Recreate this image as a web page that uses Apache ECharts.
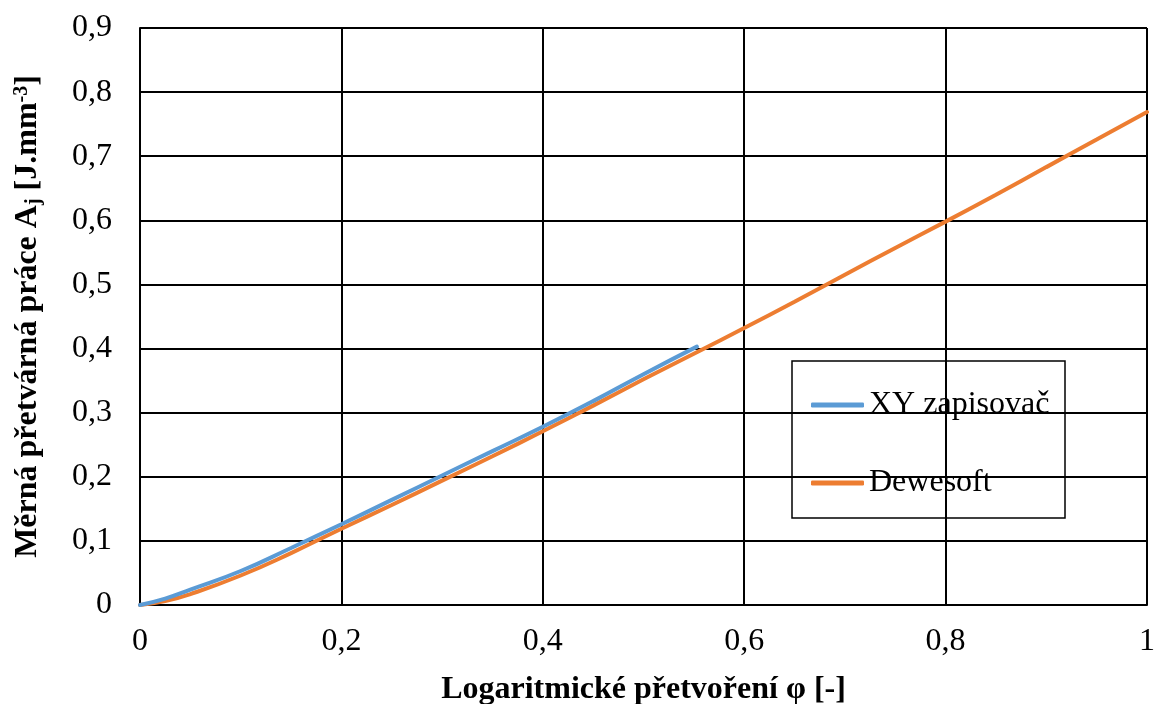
<!DOCTYPE html>
<html><head><meta charset="utf-8">
<script src="https://cdn.jsdelivr.net/npm/echarts@6/dist/echarts.min.js"></script>
<style>html,body{margin:0;padding:0;background:#fff}#c{width:1157px;height:704px}</style>
</head><body><div id="c"></div>
<script>
const xyPhi = [0, 0.025, 0.05, 0.1, 0.15, 0.2, 0.25, 0.3, 0.35, 0.4, 0.45, 0.5, 0.553];
const xyA   = [0, 0.010, 0.024, 0.053, 0.089, 0.126, 0.164, 0.202, 0.240, 0.278, 0.318, 0.360, 0.403];
const dwPhi = [0, 0.025, 0.05, 0.1, 0.15, 0.2, 0.25, 0.3, 0.35, 0.4, 0.45, 0.5, 0.55, 0.6, 0.65, 0.7, 0.75, 0.8, 0.85, 0.9, 0.95, 1.0];
const dwA   = [0, 0.006, 0.017, 0.046, 0.081, 0.119, 0.156, 0.194, 0.232, 0.271, 0.311, 0.352, 0.392, 0.432, 0.473, 0.515, 0.557, 0.598, 0.640, 0.683, 0.726, 0.769];
const seriesNames = ['XY zapisovač', 'Dewesoft'];
const xTitle = 'Logaritmické přetvoření φ [-]';
const fmt = v => String(+v.toFixed(1)).replace('.', ',');
const font = 'Liberation Serif';
const FS = 32;
const chart = echarts.init(document.getElementById('c'));
chart.setOption({
  animation: false,
  textStyle: { fontFamily: font },
  grid: { left: 140, right: 10, top: 28, bottom: 99, containLabel: false, outerBoundsMode: 'none' },
  xAxis: {
    type: 'value', min: 0, max: 1, interval: 0.2,
    axisLine: { show: true, lineStyle: { color: '#000', width: 2 } },
    axisTick: { show: false },
    splitLine: { show: true, lineStyle: { color: '#000', width: 2 } },
    axisLabel: { fontFamily: font, fontSize: FS, color: '#000', margin: 21, formatter: fmt },
    name: xTitle, nameLocation: 'middle', nameGap: 69,
    nameTextStyle: { fontFamily: font, fontSize: FS, fontWeight: 'bold', color: '#000' }
  },
  yAxis: {
    type: 'value', min: 0, max: 0.9, interval: 0.1,
    axisLine: { show: true, lineStyle: { color: '#000', width: 2 } },
    axisTick: { show: false },
    splitLine: { show: true, lineStyle: { color: '#000', width: 2 } },
    axisLabel: { fontFamily: font, fontSize: FS, color: '#000', margin: 28, formatter: fmt },
    name: 'Měrná přetvárná práce A{sub|j} [J.mm{sup|-3}]',
    nameLocation: 'middle', nameGap: 96, nameRotate: 90,
    nameTextStyle: {
      fontFamily: font, fontSize: FS, fontWeight: 'bold', color: '#000',
      rich: {
        sub: { fontFamily: font, fontSize: 20, fontWeight: 'bold', color: '#000', verticalAlign: 'bottom', padding: [12, 0, 0, 0] },
        sup: { fontFamily: font, fontSize: 20, fontWeight: 'bold', color: '#000', verticalAlign: 'top', padding: [0, 0, 12, 0] }
      }
    }
  },
  legend: {
    orient: 'vertical', left: 806, top: 384, itemWidth: 53, itemHeight: 5, itemGap: 46,
    icon: 'roundRect',
    textStyle: { fontFamily: font, fontSize: FS, color: '#000' },
    data: seriesNames
  },
  graphic: [{
    type: 'rect', z: 100, silent: true,
    shape: { x: 792, y: 361, width: 273, height: 157 },
    style: { fill: 'none', stroke: '#000', lineWidth: 1.5 }
  }],
  series: [
    { name: seriesNames[1], type: 'line', showSymbol: false, smooth: true, z: 2,
      lineStyle: { color: '#ED7D31', width: 4, cap: 'round' }, itemStyle: { color: '#ED7D31' },
      data: dwPhi.map((x, i) => [x, dwA[i]]) },
    { name: seriesNames[0], type: 'line', showSymbol: false, smooth: true, z: 3,
      lineStyle: { color: '#5B9BD5', width: 4, cap: 'round' }, itemStyle: { color: '#5B9BD5' },
      data: xyPhi.map((x, i) => [x, xyA[i]]) }
  ]
});
</script></body></html>
